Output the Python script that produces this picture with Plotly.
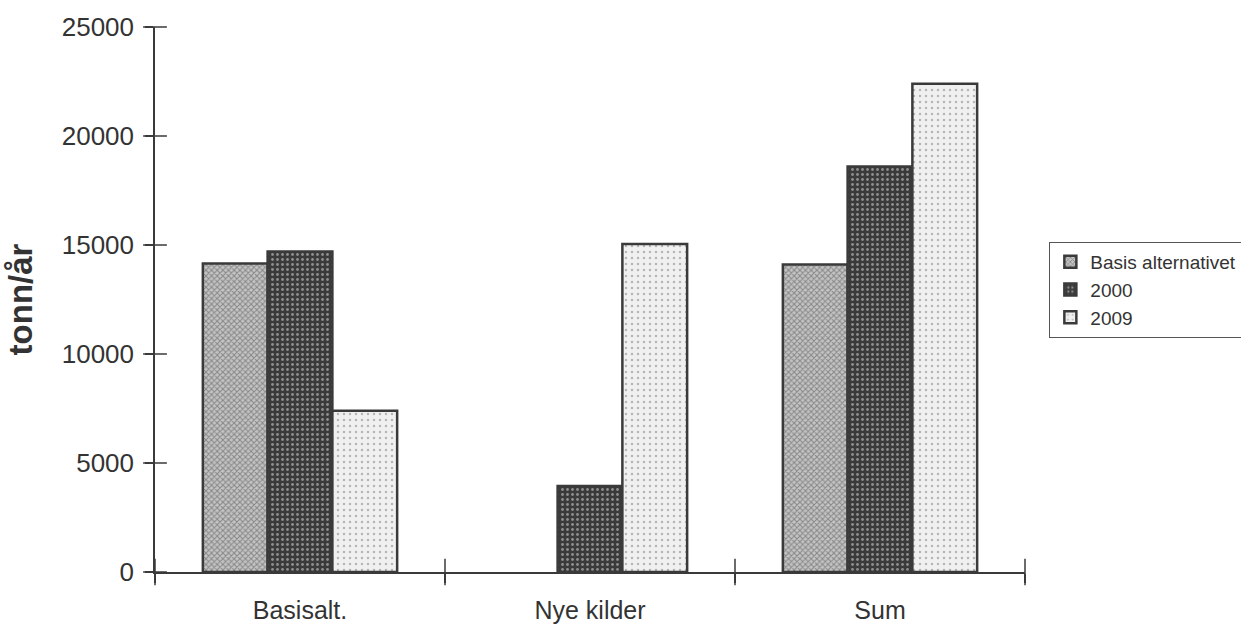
import plotly.graph_objects as go

categories = ["Basisalt.", "Nye kilder", "Sum"]
series_names = ["Basis alternativet", "2000", "2009"]
basis_values = [14150, None, 14100]
y2000_values = [14700, 3950, 18600]
y2009_values = [7400, 15050, 22400]
y_ticks = [0, 5000, 10000, 15000, 20000, 25000]

FONT = "Liberation Sans, Arial, Helvetica, sans-serif"
TXT = "#333333"
LINE = "#3a3a3a"

patterns = [
    dict(shape="x", bgcolor="#c4c4c4", fgcolor="#4a4a4a", size=4, solidity=0.45),
    dict(shape=".", bgcolor="#3a3a3a", fgcolor="#e6e6e6", size=5, solidity=0.25),
    dict(shape=".", bgcolor="#f0f0f0", fgcolor="#7a7a7a", size=6, solidity=0.14),
]
values = [basis_values, y2000_values, y2009_values]

fig = go.Figure()
for name, vals, pat in zip(series_names, values, patterns):
    fig.add_trace(go.Bar(
        x=categories, y=vals, name=name,
        marker=dict(color=pat["bgcolor"], pattern=pat,
                    line=dict(color=LINE, width=2.5)),
    ))

# crossing tick marks (axis decoration): y ticks on the y axis line, category boundaries on the x axis line
n = len(categories)
boundaries = [i - 0.5 for i in range(n + 1)]
fig.add_trace(go.Scatter(
    x=[boundaries[0]] * len(y_ticks), y=y_ticks, xaxis="x2", yaxis="y",
    mode="markers", cliponaxis=False, showlegend=False, hoverinfo="skip",
    marker=dict(symbol="line-ew", size=17, line=dict(color=LINE, width=1.5)),
))
fig.add_trace(go.Scatter(
    x=boundaries, y=[0] * len(boundaries), xaxis="x2", yaxis="y",
    mode="markers", cliponaxis=False, showlegend=False, hoverinfo="skip",
    marker=dict(symbol="line-ns", size=19, line=dict(color=LINE, width=1.5)),
))

fig.update_layout(
    width=1241, height=625,
    margin=dict(l=155, r=216, t=27, b=53, autoexpand=False),
    paper_bgcolor="white", plot_bgcolor="white",
    barmode="group", bargap=0.33, bargroupgap=0,
    font=dict(family=FONT, color=TXT),
    showlegend=True,
    legend=dict(
        x=1.028, y=0.6055, xanchor="left", yanchor="top",
        bordercolor="#555555", borderwidth=1, bgcolor="white",
        font=dict(size=19, color=TXT, family=FONT),
        tracegroupgap=0,
    ),
    xaxis=dict(
        type="category", categoryorder="array", categoryarray=categories,
        range=[-0.5, 2.5], tickson="boundaries", automargin=False,
        showline=True, linecolor=LINE, linewidth=1.5,
        ticks="outside", ticklen=9, tickcolor=LINE, tickwidth=1.5,
        tickfont=dict(size=25, color=TXT, family=FONT),
        ticklabelstandoff=15,
        showgrid=False, zeroline=False,
    ),
    xaxis2=dict(
        type="linear", overlaying="x", anchor="y", range=[-0.5, 2.5],
        visible=False, showgrid=False, zeroline=False,
    ),
    yaxis=dict(
        range=[0, 25000], tickvals=y_ticks, automargin=False,
        ticktext=[str(v) for v in y_ticks],
        showline=True, linecolor=LINE, linewidth=1.5,
        ticks="outside", ticklen=8, tickcolor=LINE, tickwidth=1.5,
        tickfont=dict(size=26, color=TXT, family=FONT),
        ticklabelstandoff=6,
        showgrid=False, zeroline=False,
        title=dict(text="<b>tonn/år</b>", font=dict(size=33, color=TXT, family=FONT),
                   standoff=19),
    ),
)

fig.write_html("out.html")
